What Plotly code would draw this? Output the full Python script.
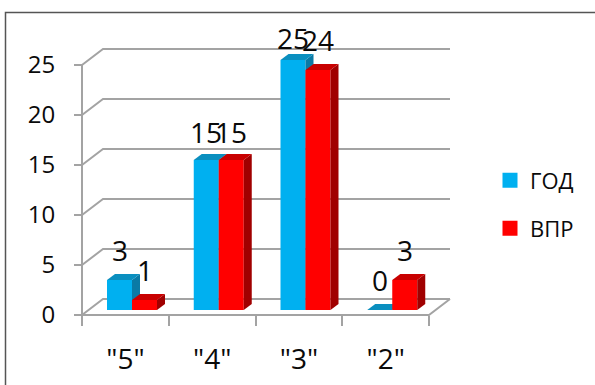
import plotly.graph_objects as go

categories = ['"5"', '"4"', '"3"', '"2"']
god = [3, 15, 25, 0]
vpr = [1, 15, 24, 3]
series_names = ["ГОД", "ВПР"]
y_ticks = [0, 5, 10, 15, 20, 25]
label_shift_god = [30, 28, 22, 30]
label_shift_vpr = [30, 28, 30, 30]

W, H = 595, 385
X0, X1 = 82, 429      # front floor, px
Y0, Y25 = 315, 65
UX = (X1 - X0) / 4    # px per category
UY = (Y0 - Y25) / 25  # px per value

GRID = "#a3a3a3"
FONT = "Open Sans, Noto Sans, sans-serif"
TXT = "#0a0a0a"
BLUE, BLUE_TOP, BLUE_SIDE = "#00b0f0", "#0a8fbf", "#0a7aa6"
RED, RED_TOP, RED_SIDE = "#ff0000", "#c80000", "#a00000"

wall_dx, wall_dy = 21 / UX, 16 / UY
depth_dx, depth_dy = 8 / UX, 6 / UY
bar_w = 25 / UX
bar_start = 25 / UX
base = 5 / UY

fig = go.Figure()

def line(xs, ys):
    fig.add_trace(go.Scatter(
        x=xs, y=ys, mode="lines", line=dict(color=GRID, width=2),
        hoverinfo="skip", showlegend=False, cliponaxis=False))

# walls: grid lines with slanted left part, axis lines, floor edge
for v in y_ticks:
    line([0, wall_dx, 4 + wall_dx], [v, v + wall_dy, v + wall_dy])
line([0, 0], [0, y_ticks[-1]])
line([0, 4, 4 + wall_dx], [0, 0, wall_dy])

def poly(xs, ys, color, ax):
    fig.add_trace(go.Scatter(
        x=xs, y=ys, mode="lines", fill="toself", fillcolor=color,
        line=dict(width=0, color=color), hoverinfo="skip",
        showlegend=False, cliponaxis=False, xaxis="x" + ax, yaxis="y" + ax))

centers = [i + 0.5 for i in range(len(categories))]
for name, vals, col, top, side, off, shifts, ax, leg in [
    (series_names[0], god, BLUE, BLUE_TOP, BLUE_SIDE, 0, label_shift_god, "2", "legend"),
    (series_names[1], vpr, RED, RED_TOP, RED_SIDE, 1, label_shift_vpr, "3", "legend2"),
]:
    left = [i + bar_start + off * bar_w for i in range(len(categories))]
    fig.add_trace(go.Bar(
        x=centers, y=vals, base=base, width=bar_w,
        offset=bar_start - 0.5 + off * bar_w,
        marker=dict(color=col, line=dict(width=0)),
        showlegend=False, hoverinfo="skip", cliponaxis=False,
        xaxis="x" + ax, yaxis="y" + ax))
    for l, v in zip(left, vals):
        r = l + bar_w
        t = base + v
        poly([r, r + depth_dx, r + depth_dx, r, r],
             [base, base + depth_dy, t + depth_dy, t, base], side, ax)
        poly([l, l + depth_dx, r + depth_dx, r, l],
             [t, t + depth_dy, t + depth_dy, t, t], top, ax)
    fig.add_trace(go.Scatter(
        x=[None], y=[None], mode="markers", name=name, legend=leg,
        marker=dict(symbol="square", size=15, color=col),
        xaxis="x" + ax, yaxis="y" + ax))
    for l, v, s in zip(left, vals, shifts):
        fig.add_annotation(
            x=l + bar_w / 2, y=base + v, text=str(v), showarrow=False,
            yshift=s, xanchor="center", yanchor="middle",
            font=dict(family=FONT, size=28, color=TXT))

x_range = [-X0 / UX, (W - X0) / UX]
y_range = [-(H - Y0) / UY, Y0 / UY]
hidden_x = dict(range=x_range, visible=False, fixedrange=True, automargin=False)
hidden_y = dict(range=y_range, visible=False, fixedrange=True, automargin=False)

legend_style = dict(
    xanchor="left", yanchor="middle", itemwidth=30, indentation=-6,
    font=dict(family=FONT, size=22, color=TXT), bgcolor="rgba(0,0,0,0)",
)

fig.update_layout(
    width=W, height=H, margin=dict(l=0, r=0, t=0, b=0),
    paper_bgcolor="white", plot_bgcolor="rgba(0,0,0,0)",
    barmode="overlay",
    xaxis=dict(
        domain=[0, 1], range=x_range, fixedrange=True, automargin=False,
        anchor="free", position=(H - Y0) / H,
        tickmode="array", tickvals=centers, ticktext=categories,
        ticks="outside", ticklen=19, tickcolor="rgba(0,0,0,0)",
        showline=False, showgrid=False, zeroline=False,
        tickfont=dict(family=FONT, size=28, color=TXT),
        minor=dict(ticks="outside", tickmode="array", tickvals=[0, 1, 2, 3, 4],
                   ticklen=10, tickwidth=2, tickcolor=GRID, showgrid=False),
    ),
    yaxis=dict(
        domain=[0, 1], range=y_range, fixedrange=True, automargin=False,
        anchor="free", position=X0 / W,
        tickmode="array", tickvals=y_ticks,
        ticks="outside", ticklen=8, tickwidth=2, tickcolor=GRID,
        ticklabelstandoff=14,
        showline=False, showgrid=False, zeroline=False,
        tickfont=dict(family=FONT, size=24, color=TXT),
    ),
    xaxis2=dict(hidden_x, overlaying="x", anchor="y2"),
    yaxis2=dict(hidden_y, overlaying="y", anchor="x2"),
    xaxis3=dict(hidden_x, overlaying="x", anchor="y3"),
    yaxis3=dict(hidden_y, overlaying="y", anchor="x3"),
    legend=dict(legend_style, x=496 / W, y=1 - 180.5 / H),
    legend2=dict(legend_style, x=496 / W, y=1 - 228.5 / H),
    shapes=[dict(type="rect", xref="paper", yref="paper",
                 x0=5.5 / W, x1=1.1, y0=-0.1, y1=1 - 12.5 / H,
                 line=dict(color="#555555", width=1.5), layer="below")],
)
fig.write_html("out.html", config=dict(displayModeBar=False),
               post_script="document.body.style.margin='0';")
